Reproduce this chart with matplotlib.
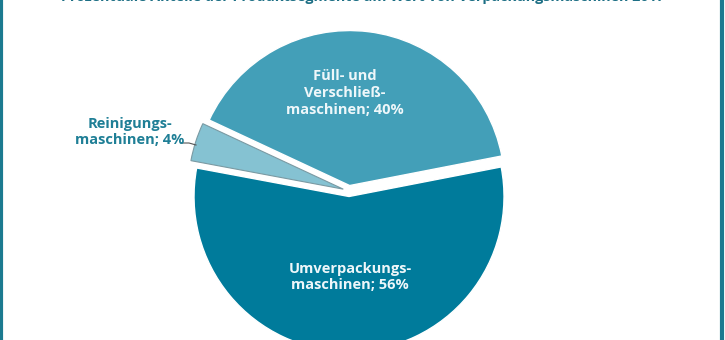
import matplotlib.pyplot as plt
from matplotlib.patches import Rectangle

# Anteile der Produktsegmente
segments = ['Füll- und\nVerschließ-\nmaschinen', 'Reinigungs-\nmaschinen', 'Umverpackungs-\nmaschinen']
shares = [40, 4, 56]
colors = ['#439fb8', '#85c2d2', '#007b9b']

title = 'Prozentuale Anteile der Produktsegmente am Wert von Verpackungsmaschinen 2017'

plt.rcParams['font.family'] = ['Open Sans', 'DejaVu Sans']

fig = plt.figure(figsize=(7.25, 3.4), dpi=100)
ax = fig.add_axes([0, 0, 1, 1])

# explode ist hier in Pixeln, weil die Achse in Pixeln skaliert ist
wedges, _ = ax.pie(shares, colors=colors, startangle=11, counterclock=True,
                   radius=155, center=(349, 149), explode=[5.5, 6, 5.5],
                   wedgeprops=dict(edgecolor='white', linewidth=1), frame=True)
ax.set_xlim(0, 725)
ax.set_ylim(0, 340)
ax.set_aspect('equal')
ax.axis('off')
wedges[1].set_edgecolor('#7a9aa3')
wedges[1].set_linewidth(0.8)

# Beschriftungen
ax.text(345, 247, '{}; {}%'.format(segments[0], shares[0]), ha='center', va='center',
        color='#eef7fa', fontsize=10.5, fontweight='bold', linespacing=1.25)
ax.text(350, 63, '{}; {}%'.format(segments[2], shares[2]), ha='center', va='center',
        color='#eef7fa', fontsize=10.5, fontweight='bold', linespacing=1.25)
ax.text(130, 208, '{}; {}%'.format(segments[1], shares[1]), ha='center', va='center',
        color='#1f7f96', fontsize=10.5, fontweight='bold', linespacing=1.25)
ax.plot([181, 189, 196], [197, 197, 195], color='#555555', lw=0.8)

fig.text(0.5, 0.997, title, ha='center', va='baseline', color='#1d6f85',
         fontsize=10.3, fontweight='bold')

# Rahmen
fig.patches.append(Rectangle((0.002, -0.1), 0.994, 1.2, transform=fig.transFigure,
                             fill=False, edgecolor='#1b7a90', lw=3))

fig.savefig('out.png', dpi=100)
